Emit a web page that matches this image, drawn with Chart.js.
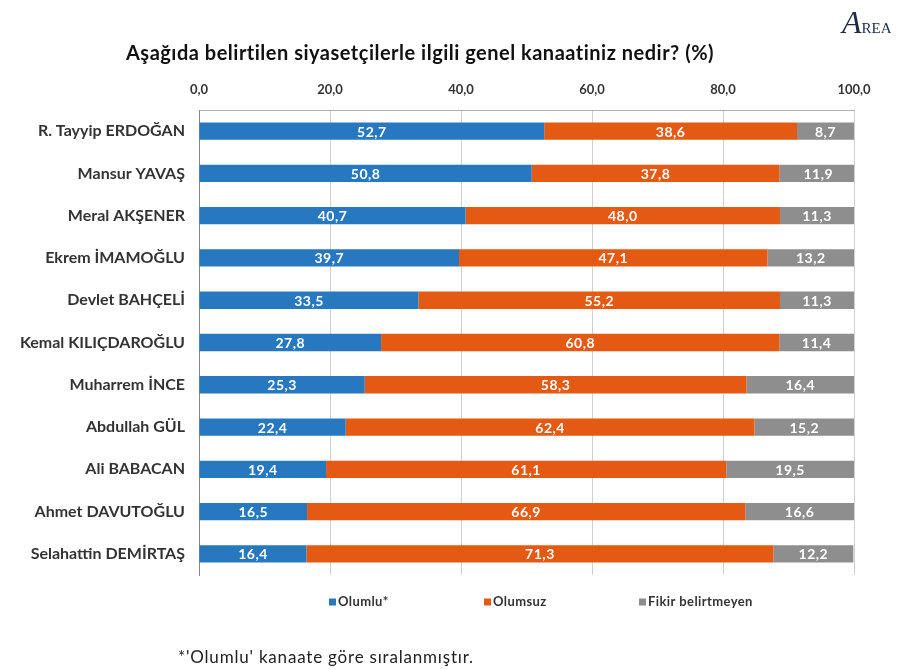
<!DOCTYPE html>
<html lang="tr">
<head>
<meta charset="utf-8">
<script src="https://cdn.jsdelivr.net/npm/chart.js@4.4.1/dist/chart.umd.min.js"></script>
<style>
  body { margin: 0; background: #fff; }
  #kutu { position: relative; width: 906px; height: 669px; overflow: hidden; }
  #grafik { position: absolute; left: 0; top: 0; }
  #baslik { position: absolute; left: 0; width: 840px; top: 40px; text-align: center;
    font: bold 20px Lato, "Liberation Sans", sans-serif; letter-spacing: 0.5px; color: #111; }
  #dipnot { position: absolute; left: 178px; top: 646px;
    font: 17px Lato, "Liberation Sans", sans-serif; letter-spacing: 0.8px; color: #222; }
  #logo { position: absolute; left: 842px; top: 4px; font-family: "Liberation Serif", serif; color: #1d2b46; }
  #logo .a { font-size: 32px; font-style: italic; }
  #logo .r { font-size: 15px; }
</style>
</head>
<body>
<div id="kutu">
  <canvas id="grafik" width="906" height="669"></canvas>
  <div id="baslik">Aşağıda belirtilen siyasetçilerle ilgili genel kanaatiniz nedir? (%)</div>
  <div id="logo"><span class="a">A</span><span class="r">REA</span></div>
  <div id="dipnot">*'Olumlu' kanaate göre sıralanmıştır.</div>
</div>
<script>
/* Veriler */
const siyasetciler = [
	"R. Tayyip ERDOĞAN",
	"Mansur YAVAŞ",
	"Meral AKŞENER",
	"Ekrem İMAMOĞLU",
	"Devlet BAHÇELİ",
	"Kemal KILIÇDAROĞLU",
	"Muharrem İNCE",
	"Abdullah GÜL",
	"Ali BABACAN",
	"Ahmet DAVUTOĞLU",
	"Selahattin DEMİRTAŞ",
];
const olumlu = [52.7, 50.8, 40.7, 39.7, 33.5, 27.8, 25.3, 22.4, 19.4, 16.5, 16.4];
const olumsuz = [38.6, 37.8, 48.0, 47.1, 55.2, 60.8, 58.3, 62.4, 61.1, 66.9, 71.3];
const fikirYok = [8.7, 11.9, 11.3, 13.2, 11.3, 11.4, 16.4, 15.2, 19.5, 16.6, 12.2];
const seriAdlari = ["Olumlu*", "Olumsuz", "Fikir belirtmeyen"];
const eksenDegerleri = [0, 20, 40, 60, 80, 100];

const yazi = 'Lato, "Liberation Sans", sans-serif';
const virgul = (v) => v.toFixed(1).replace(".", ",");

/* Çubukların üzerine değer yazma */
const degerEtiketi = {
	id: "degerEtiketi",
	afterDatasetsDraw(chart) {
		const ctx = chart.ctx;
		ctx.save();
		ctx.font = "bold 14px " + yazi;
		ctx.letterSpacing = "0.5px";
		ctx.fillStyle = "#fff";
		ctx.textAlign = "center";
		ctx.textBaseline = "middle";
		chart.data.datasets.forEach((ds, i) => {
			chart.getDatasetMeta(i).data.forEach((bar, j) => {
				ctx.fillText(virgul(ds.data[j]), (bar.x + bar.base) / 2, bar.y + 1);
			});
		});
		ctx.restore();
	},
};

/* Alt taraftaki açıklama (eşit aralıklı) */
const aciklama = {
	id: "aciklama",
	afterDraw(chart) {
		const ctx = chart.ctx;
		const a = chart.chartArea;
		ctx.save();
		ctx.font = "bold 13px " + yazi;
		ctx.letterSpacing = "0.4px";
		ctx.textBaseline = "middle";
		chart.data.datasets.forEach((ds, i) => {
			const x = a.left + 130 + i * 155;
			const y = a.bottom + 27;
			ctx.fillStyle = ds.backgroundColor;
			ctx.fillRect(x, y - 3.5, 7, 7);
			ctx.fillStyle = "#333";
			ctx.fillText(ds.label, x + 9, y);
		});
		ctx.restore();
	},
};

let config = {
	type: "bar",
	data: {
		labels: siyasetciler,
		datasets: [
			{ label: seriAdlari[0], data: olumlu, backgroundColor: "rgb(40, 120, 192)" },
			{ label: seriAdlari[1], data: olumsuz, backgroundColor: "rgb(228, 90, 18)" },
			{ label: seriAdlari[2], data: fikirYok, backgroundColor: "rgb(142, 142, 142)" },
		],
	},
	options: {
		indexAxis: "y",
		responsive: false,
		animation: false,
		barPercentage: 0.41,
		categoryPercentage: 1,
		layout: { padding: { left: 0, right: 52, top: 70, bottom: 94 } },
		plugins: { legend: { display: false }, tooltip: { enabled: false } },
		scales: {
			x: {
				position: "top",
				stacked: true,
				min: 0,
				max: 100,
				afterBuildTicks: (s) => { s.ticks = eksenDegerleri.map((v) => ({ value: v })); },
				afterFit: (s) => { s.height = 40; },
				ticks: { callback: (v) => virgul(v), font: { family: yazi, size: 13, weight: "bold" }, color: "#333", padding: 12 },
				grid: { color: "#d0d0d0", drawTicks: false },
				border: { color: "#b0b0b0" },
			},
			y: {
				stacked: true,
				afterFit: (s) => { s.width = 199; },
				ticks: { font: { family: yazi, size: 16, weight: "bold" }, color: "#333", padding: 14 },
				grid: { display: false, drawTicks: false },
				border: { color: "#888" },
			},
		},
	},
	plugins: [degerEtiketi, aciklama],
};

const grafik = new Chart(document.getElementById("grafik"), config);
</script>
</body>
</html>
